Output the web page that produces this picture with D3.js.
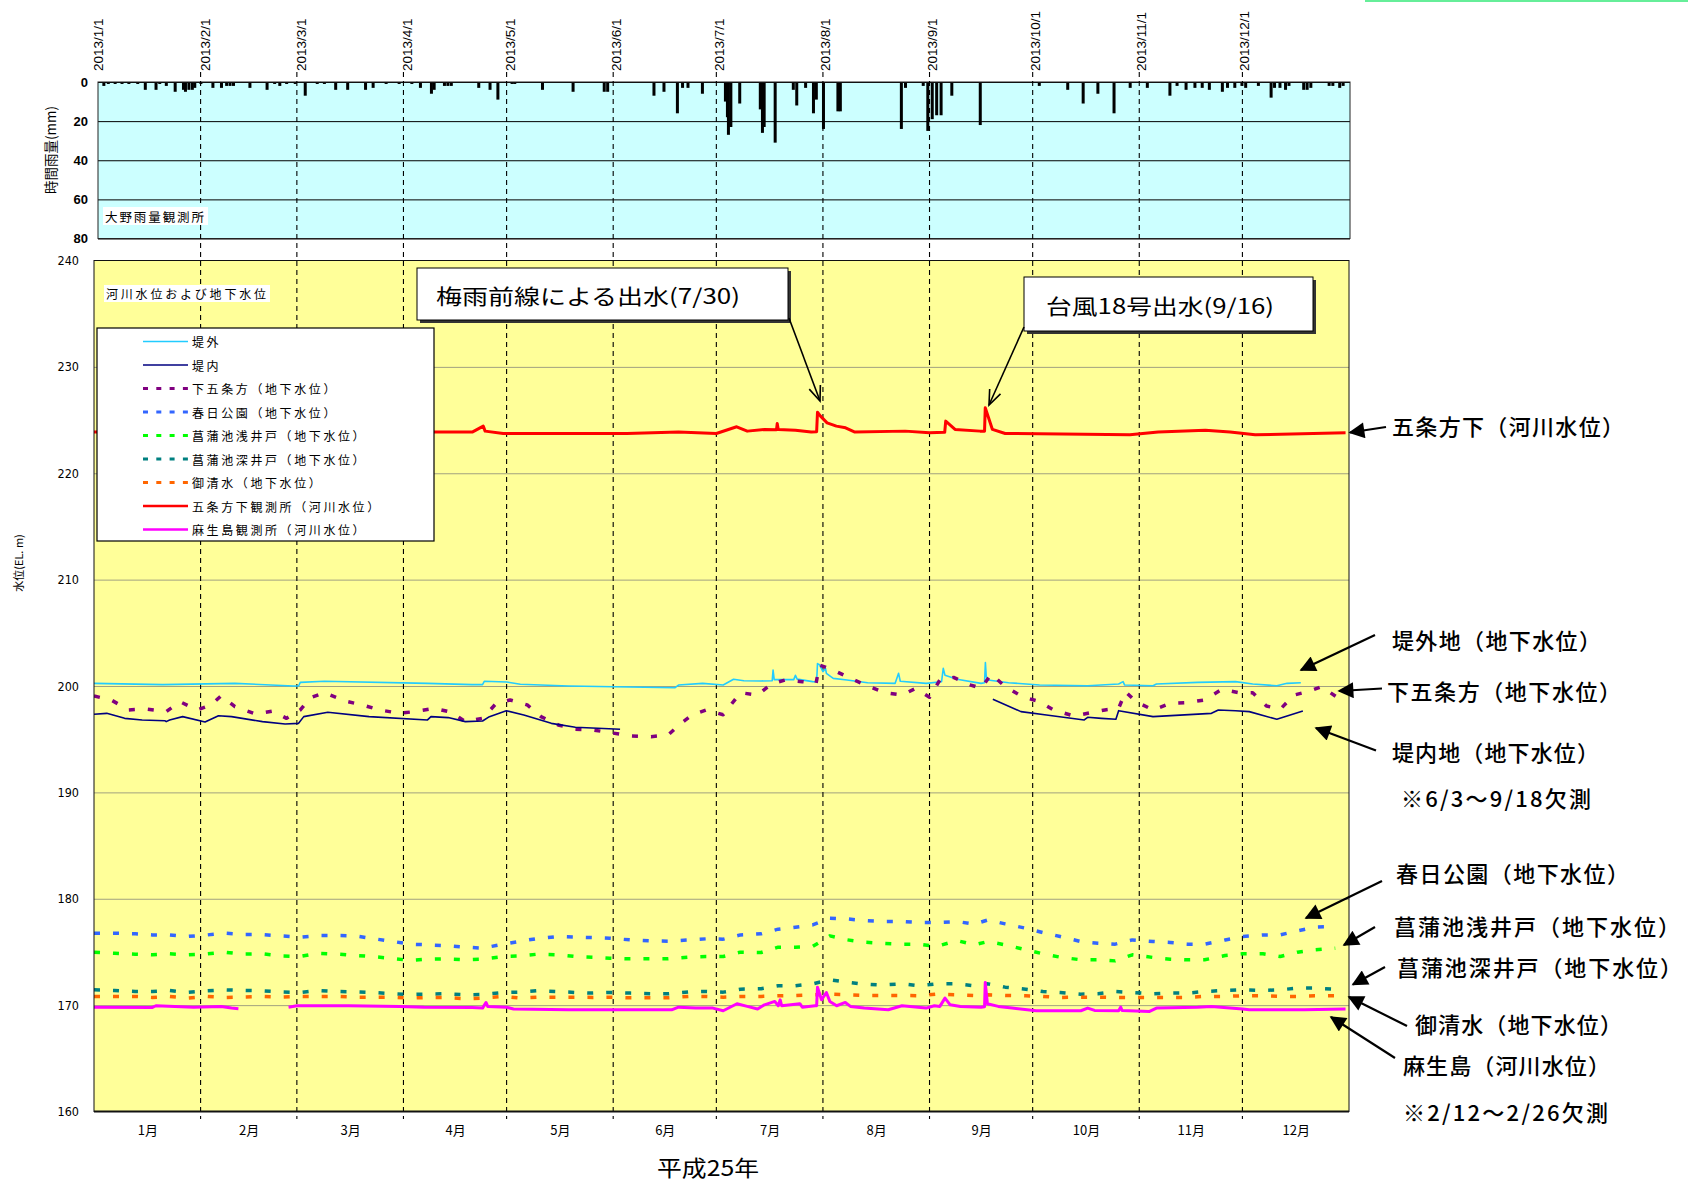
<!DOCTYPE html>
<html><head><meta charset="utf-8">
<script src="https://cdn.jsdelivr.net/npm/d3@7"></script>
<style>body{margin:0;background:#fff;}svg{display:block;}</style>
</head><body>
<svg id="c" width="1688" height="1185"></svg>
<script>
// ---------------- DATA ----------------
const monthStarts = ["1/1","2/1","3/1","4/1","5/1","6/1","7/1","8/1","9/1","10/1","11/1","12/1"];
const topDateLabels = ["2013/1/1","2013/2/1","2013/3/1","2013/4/1","2013/5/1","2013/6/1","2013/7/1","2013/8/1","2013/9/1","2013/10/1","2013/11/1","2013/12/1"];
const monthMids = ["1/16 12","2/15","3/16 12","4/16","5/16 12","6/16","7/16 12","8/16 12","9/16","10/16 12","11/16","12/16 12"];
const monthLabels = ["1月","2月","3月","4月","5月","6月","7月","8月","9月","10月","11月","12月"];
const levelTicks = [160,170,180,190,200,210,220,230,240];
const rainTicks = [0,20,40,60,80];

const rainfall = [
["1/2 17",2],["1/4",1],["1/6",1],["1/8",1],["1/10",1],["1/12 14",1],["1/14 19",4],["1/17 22",4],["1/19",1],["1/20 22",2],["1/23 12",5],["1/25 22",4],["1/26 12",5],["1/27 12",4],["1/28 12",4],["1/29 5",3],["1/31",1],
["2/3 12",3],["2/6",3],["2/7 12",2],["2/8 12",2],["2/9 12",2],["2/14 7",3],["2/19 7",4],["2/21 12",1],["2/23",2],["2/25",1],["2/27 12",1],
["3/2 10",7],["3/5 22",1],["3/8",1],["3/11 7",4],["3/14 19",4],["3/20",4],["3/22 5",3],["3/26",1],["3/29 19",1],
["4/2 12",1],["4/5",3],["4/8 5",6],["4/9",4],["4/12",2],["4/13",2],["4/14",2],["4/22",3],["4/25 7",4],["4/27 14",9],
["5/1 17",1],["5/2 12",1],["5/10 14",4],["5/19 12",5],["5/28 14",5],["5/29 14",5],
["6/12 2",7],["6/15",5],["6/18 22",16],["6/20 10",3],["6/22",3],["6/26 5",6],
["7/2 22",10],["7/3 12",18],["7/3 19",27],["7/4 12",23],["7/7 2",11],["7/13 2",14],["7/13 17",26],["7/14 5",23],["7/17 10",31],["7/22 17",4],["7/23 17",12],["7/26 7",3],["7/28 14",16],["7/29 10",9],["7/31 12",24],
["8/4 17",15],["8/5 10",15],["8/23 5",24],["8/24 10",3],["8/29 14",2],["8/30 22",25],
["9/1 5",19],["9/2 12",17],["9/3 19",17],["9/6 22",7],["9/15 5",22],
["10/2 10",2],["10/10 17",4],["10/15 5",11],["10/19 12",6],["10/24 5",16],["10/28 22",3],
["11/2 22",3],["11/9 12",7],["11/11 14",2],["11/14 5",4],["11/16 19",3],["11/18 22",3],["11/21",4],["11/24 19",5],["11/26 7",3],["11/28 10",3],["11/30 12",2],
["12/1 14",3],["12/5 7",2],["12/9",8],["12/10",3],["12/11 14",3],["12/13 5",4],["12/14 5",2],["12/18 12",4],["12/19 12",4],["12/20 14",3],["12/25 22",2],["12/27",2],["12/29",3],["12/30",2]
];

// 堤外
const teigai = [["1/1",200.25],["1/21",200.13],["2/11",200.25],["2/28",200.0],["3/1 12",200.0],["3/2",200.34],["3/9",200.44],["4/8",200.25],["4/21",200.13],["4/24",200.13],["4/24 12",200.44],["5/1",200.38],["5/5",200.16],["5/19",200.0],["6/19",199.84],["6/20",200.09],["6/27",200.25],["7/3",200.1],["7/6",200.63],["7/9",200.5],["7/14",200.47],["7/17 6",200.5],["7/17 12",201.5],["7/17 20",200.6],["7/23 12",200.6],["7/24",201.0],["7/24 12",200.65],["7/29",200.41],["7/30 4",200.4],["7/30 10",202.1],["7/31",202.0],["8/1",201.35],["8/1 18",201.66],["8/2",201.19],["8/4",200.72],["8/8",200.56],["8/14",200.31],["8/22",200.25],["8/23",201.19],["8/23 12",200.45],["8/31",200.25],["9/4 12",200.4],["9/5",201.66],["9/5 12",201.0],["9/9",200.63],["9/16",200.25],["9/17 0",200.3],["9/17 6",202.2],["9/17 12",200.9],["9/18",200.56],["9/24",200.31],["10/3",200.09],["10/17",200.03],["10/26",200.19],["10/27 7",200.41],["10/27 18",200.09],["11/5",200.03],["11/6",200.19],["11/18",200.34],["11/29",200.41],["12/4",200.19],["12/11",200.03],["12/14",200.25],["12/18",200.31]];
// 堤内 (6/3〜9/18 欠測)
const teinai = [["1/1",197.34],["1/4 17",197.43],["1/9 22",196.96],["1/15",196.81],["1/21 14",196.74],["1/22",196.65],["1/23",196.8],["1/26 19",197.12],["2/2 7",196.62],["2/6 5",197.21],["2/10",197.12],["2/19",196.65],["2/25 14",196.43],["3/1 12",196.49],["3/3",197.12],["3/10",197.53],["3/22",197.12],["4/8",196.81],["4/9",197.12],["4/14",197.03],["4/19",196.65],["4/24",196.71],["4/26",197.12],["4/30 22",197.68],["5/6",197.28],["5/14",196.49],["5/21",196.12],["6/3",195.93],["6/4",null],["9/19 10",198.75],["9/27 14",197.59],["10/5",197.28],["10/16",196.81],["10/17",197.06],["10/21",196.96],["10/25 5",196.87],["10/26",197.68],["11/5",197.12],["11/22",197.43],["11/24",197.75],["11/29",197.68],["12/3",197.59],["12/11",196.87],["12/18 14",197.65]];
// 下五条方
const shimogojo = [["1/1",199.06],["1/6",198.69],["1/11",197.75],["1/16",197.84],["1/22",197.59],["1/26",198.53],["1/31",197.75],["2/4",198.22],["2/7",199.09],["2/11",198.06],["2/17",197.37],["2/22",197.65],["2/26",196.96],["3/2",197.75],["3/5",198.9],["3/9",199.37],["3/15",198.59],["3/20",198.22],["3/25",197.75],["3/31",197.43],["4/4",197.59],["4/10",197.9],["4/15",197.53],["4/19",196.65],["4/24",196.96],["4/28",198.37],["5/2",198.69],["5/7",198.22],["5/11",197.12],["5/16",196.34],["5/21",195.93],["5/26",195.87],["5/31",195.62],["6/6",195.31],["6/12",195.24],["6/17",195.4],["6/21",196.56],["6/24",197.28],["6/28",197.75],["7/3",197.3],["7/8",199.37],["7/13",199.15],["7/17",200.19],["7/21",200.56],["7/26",200.41],["7/30",200.25],["7/31",201.97],["8/4",201.5],["8/9",200.72],["8/14",200.0],["8/19",199.37],["8/24",199.15],["8/28",199.78],["9/1",198.94],["9/4",200.56],["9/8",200.81],["9/13",200.09],["9/16",199.78],["9/19",201.13],["9/23",199.94],["9/28",199.0],["10/3",198.53],["10/7",197.75],["10/13",197.18],["10/18",197.5],["10/22",197.75],["10/26",197.9],["10/28",199.47],["10/31",198.53],["11/5",197.75],["11/10",198.37],["11/15",198.44],["11/20",198.69],["11/25",199.69],["11/30",199.37],["12/4",199.37],["12/8",198.12],["12/12",197.81],["12/16",199.15],["12/20",199.47],["12/24",199.94],["12/29",198.84]];

const wellDates = ["1/1","1/7","1/13","1/18","1/23","1/28","2/3","2/8","2/13","2/19","2/24","3/2","3/7","3/13","3/18","3/23","3/29","4/3","4/8","4/13","4/19","4/24","4/30","5/5","5/10","5/16","5/21","5/26","5/31","6/6","6/12","6/17","6/23","6/28",
"7/3","7/8","7/14","7/19","7/24","7/29","8/3","8/8","8/13","8/18","8/24","8/29","9/3","9/9","9/14","9/18","9/23","9/29","10/4","10/9","10/15","10/20","10/25","10/30","11/5","11/10","11/15","11/20","11/26","12/1","12/7","12/12","12/17","12/22","12/28"];
// 春日公園
const kasugaValues = [176.76,176.76,176.70,176.60,176.60,176.45,176.60,176.76,176.64,176.64,176.51,176.39,176.54,176.54,176.51,176.26,175.98,175.73,175.67,175.60,175.45,175.36,175.73,176.01,176.26,176.45,176.39,176.35,176.29,176.13,176.04,176.01,176.13,176.23,
176.20,176.60,176.70,177.14,177.33,177.54,178.17,178.11,177.95,177.86,177.86,177.76,177.76,177.86,177.61,178.01,177.64,177.23,176.82,176.45,175.98,175.82,175.73,176.13,175.98,175.89,175.73,175.73,176.13,176.45,176.60,176.60,176.98,177.33,177.39];
// 菖蒲池浅井戸
const shallowValues = [174.98,174.88,174.79,174.73,174.82,174.73,174.82,174.98,174.79,174.82,174.63,174.57,174.88,174.79,174.67,174.57,174.38,174.20,174.32,174.35,174.26,174.32,174.57,174.63,174.79,174.73,174.57,174.51,174.41,174.35,174.35,174.35,174.51,174.57,
174.57,174.98,174.95,175.45,175.45,175.51,176.51,176.14,175.92,175.82,175.73,175.73,175.51,176.07,175.67,175.98,175.67,175.20,174.82,174.51,174.26,174.26,174.16,174.73,174.48,174.32,174.26,174.26,174.67,174.82,174.82,174.57,174.98,175.20,175.35];
// 菖蒲池深井戸
const deepValues = [171.44,171.38,171.28,171.28,171.38,171.19,171.35,171.44,171.38,171.35,171.25,171.19,171.38,171.28,171.25,171.19,171.07,171.00,171.03,171.07,170.97,171.00,171.19,171.22,171.35,171.28,171.19,171.13,171.19,171.13,171.07,171.07,171.25,171.28,
171.22,171.50,171.54,171.82,171.82,172.00,172.38,172.16,171.97,171.88,172.00,171.82,172.00,172.00,171.82,172.00,171.69,171.50,171.28,171.19,171.03,171.07,171.28,171.19,171.07,171.13,171.13,171.28,171.38,171.44,171.38,171.44,171.60,171.60,171.50];
// 御清水
const oshozuValues = [170.82,170.82,170.82,170.72,170.82,170.66,170.82,170.72,170.75,170.82,170.75,170.82,170.82,170.82,170.75,170.75,170.75,170.66,170.72,170.72,170.60,170.66,170.82,170.66,170.75,170.75,170.75,170.72,170.75,170.69,170.69,170.69,170.82,170.82,
170.75,170.82,170.82,170.88,170.91,170.97,171.03,170.97,170.91,170.91,170.91,170.88,171.03,170.97,170.91,170.97,170.91,170.88,170.82,170.72,170.75,170.75,170.72,170.72,170.72,170.72,170.72,170.82,170.82,170.88,170.88,170.82,170.82,170.88,170.88];
// 五条方下観測所
const gojo = [["1/1",223.87],["4/10",223.87],["4/21",223.87],["4/24 5",224.43],["4/24 18",223.96],["4/30",223.74],["6/5",223.74],["6/20",223.87],["7/1",223.74],["7/6 22",224.37],["7/10",223.96],["7/15",224.12],["7/18 12",224.1],["7/18 17",224.68],["7/19",224.12],["7/24",224.05],["7/28 14",223.87],["7/30 4",223.9],["7/30 10",225.74],["7/31 7",225.37],["8/2 5",224.74],["8/4 22",224.43],["8/7 14",224.27],["8/10 7",223.87],["8/24 22",223.96],["9/1",223.8],["9/5 10",223.85],["9/5 17",224.9],["9/8 10",224.12],["9/15 17",223.96],["9/17 0",223.96],["9/17 5",226.15],["9/19 7",224.12],["9/23",223.74],["10/29 7",223.61],["11/6 12",223.87],["11/20 5",224.05],["11/27 10",223.87],["12/4 17",223.61],["12/31",223.8]];
// 麻生島観測所 (2/12〜2/26 欠測)
const asoujima = [["1/1",169.81],["1/18",169.78],["1/19",169.94],["1/30",169.81],["2/7",169.88],["2/10",169.72],["2/12",169.66],["2/13",null],["2/26 14",169.81],["3/1",169.94],["3/16",169.94],["3/31",169.88],["4/7",169.81],["4/21",169.78],["4/24",169.72],["4/25",170.25],["4/25 12",169.88],["4/30 22",169.81],["5/3",169.63],["5/19",169.56],["5/31",169.56],["6/18",169.56],["6/20",169.81],["6/25",169.72],["6/30",169.72],["7/3",169.47],["7/7",170.13],["7/10",169.88],["7/13",169.63],["7/15",170.03],["7/18",170.35],["7/19",169.94],["7/19 14",170.5],["7/20",169.94],["7/25 7",170.13],["7/26",169.81],["7/29 17",169.94],["7/30 4",169.95],["7/30 10",171.69],["7/31 14",170.5],["8/2",171.19],["8/3",170.35],["8/5",169.94],["8/7 12",170.25],["8/9",169.88],["8/13",169.72],["8/20",169.56],["8/24",169.94],["8/31",169.72],["9/2 10",169.94],["9/4",169.88],["9/5 12",170.66],["9/7",170.03],["9/10",169.88],["9/16",169.81],["9/17 0",169.85],["9/17 5",172.13],["9/17 20",170.13],["9/21",169.88],["9/25",169.72],["10/2",169.47],["10/15",169.47],["10/17",169.72],["10/19",169.5],["10/26",169.47],["10/26 14",169.81],["10/27",169.5],["11/4",169.41],["11/6",169.72],["11/18",169.81],["11/22",169.88],["12/1",169.63],["12/3",169.56],["12/19",169.56],["12/31",169.63]];

const legendNames = ["堤外","堤内","下五条方（地下水位）","春日公園（地下水位）","菖蒲池浅井戸（地下水位）","菖蒲池深井戸（地下水位）","御清水（地下水位）","五条方下観測所（河川水位）","麻生島観測所（河川水位）"];
const sideLabels = ["五条方下（河川水位）","堤外地（地下水位）","下五条方（地下水位）","堤内地（地下水位）","※6/3～9/18欠測","春日公園（地下水位）","菖蒲池浅井戸（地下水位）","菖蒲池深井戸（地下水位）","御清水（地下水位）","麻生島（河川水位）","※2/12～2/26欠測"];
const eventLabels = ["梅雨前線による出水(7/30)","台風18号出水(9/16)"];

// ---------------- LAYOUT ----------------
const JP = "'Noto Sans CJK JP','Noto Sans CJK SC',sans-serif";
const NARROW = "'Liberation Sans Narrow','DejaVu Sans Condensed','Liberation Sans',sans-serif";
const ARIAL = "'Liberation Sans',Arial,sans-serif";
const parse = s => { const [md,h] = s.split(" "); const [m,d] = md.split("/").map(Number); return new Date(2013,m-1,d,h?+h:0); };

const M = {l:94, r:1349, t:260.5, b:1111.5};
const R = {l:98, r:1350, t:82, b:238.5};
const x = d3.scaleTime().domain([new Date(2013,0,1), new Date(2014,0,1)]).range([M.l,M.r]);
const xr = d3.scaleTime().domain([new Date(2013,0,1), new Date(2014,0,1)]).range([R.l,R.r]);
const y = d3.scaleLinear().domain([160,240]).range([M.b,M.t]);
const yr = d3.scaleLinear().domain([0,80]).range([R.t,R.b]);

const svg = d3.select("#c");
const defs = svg.append("defs");
defs.append("clipPath").attr("id","clipM").append("rect").attr("x",M.l).attr("y",M.t).attr("width",M.r-M.l).attr("height",M.b-M.t);
defs.append("clipPath").attr("id","clipR").append("rect").attr("x",R.l).attr("y",R.t).attr("width",R.r-R.l).attr("height",R.b-R.t);
const mk = defs.append("marker").attr("id","tri").attr("viewBox","0 0 10 10").attr("refX",9).attr("refY",5)
  .attr("markerWidth",20).attr("markerHeight",16).attr("markerUnits","userSpaceOnUse").attr("orient","auto");
mk.append("path").attr("d","M0,0 L10,5 L0,10 Z").attr("fill","#000");

// decorative line top right
svg.append("line").attr("x1",1365).attr("x2",1688).attr("y1",1).attr("y2",1).attr("stroke","#66ee99").attr("stroke-width",2);

// ---- rain panel ----
svg.append("rect").attr("x",R.l).attr("y",R.t).attr("width",R.r-R.l).attr("height",R.b-R.t).attr("fill","#ccffff");
const rg = svg.append("g").attr("transform",`translate(${R.l},0)`)
  .call(d3.axisLeft(yr).tickValues(rainTicks).tickSize(-(R.r-R.l)).tickPadding(10));
rg.select(".domain").remove();
rg.selectAll(".tick line").attr("stroke","#000").attr("stroke-width",1);
rg.selectAll(".tick text").attr("font-family",ARIAL).attr("font-size",13).attr("font-weight","bold").attr("fill","#000");
svg.append("g").attr("clip-path","url(#clipR)").selectAll("rect").data(rainfall).join("rect")
  .attr("x",d=>xr(parse(d[0]))-1.5).attr("width",3)
  .attr("y",yr(0)).attr("height",d=>yr(d[1])-yr(0)).attr("fill","#000");
svg.append("rect").attr("x",R.l).attr("y",R.t).attr("width",R.r-R.l).attr("height",R.b-R.t).attr("fill","none").attr("stroke","#222").attr("stroke-width",1);
svg.append("text").attr("transform",`translate(50,150) rotate(-90)`).attr("text-anchor","middle").attr("dominant-baseline","central")
  .attr("font-family",JP).attr("font-size",13.5).text("時間雨量(mm)");

// top date labels
const tg = svg.append("g").attr("transform",`translate(0,71)`)
  .call(d3.axisTop(xr).tickValues(monthStarts.map(parse)).tickFormat((d,i)=>topDateLabels[i]).tickSize(0));
tg.select(".domain").remove();
tg.selectAll(".tick text").attr("transform","rotate(-90)").attr("x",0).attr("y",0).attr("dy","0.35em")
  .attr("text-anchor","start").attr("font-family",ARIAL).attr("font-size",13.5).attr("fill","#000");

// ---- main panel ----
svg.append("rect").attr("x",M.l).attr("y",M.t).attr("width",M.r-M.l).attr("height",M.b-M.t).attr("fill","#ffff99");
const yg = svg.append("g").attr("transform",`translate(${M.l},0)`)
  .call(d3.axisLeft(y).tickValues(levelTicks).tickSize(-(M.r-M.l)).tickPadding(15));
yg.select(".domain").remove();
yg.selectAll(".tick line").attr("stroke","#8a8a7a").attr("stroke-width",0.8)
  .filter(d=>d===160||d===240).remove();
yg.selectAll(".tick text").attr("font-family",NARROW).attr("font-stretch","condensed").attr("font-size",12.5).attr("fill","#000");
svg.append("text").attr("transform",`translate(18,563) rotate(-90)`).attr("text-anchor","middle").attr("dominant-baseline","central")
  .attr("font-family",JP).attr("font-size",11).text("水位(EL. m)");

// month dashed lines (across both panels)
svg.append("g").selectAll("line").data(monthStarts.slice(1)).join("line")
  .attr("x1",d=>x(parse(d))).attr("x2",d=>x(parse(d))).attr("y1",72).attr("y2",1119)
  .attr("stroke","#000").attr("stroke-width",1.1).attr("stroke-dasharray","5,4");

// month labels
const xg = svg.append("g").attr("transform",`translate(0,${M.b})`)
  .call(d3.axisBottom(x).tickValues(monthMids.map(parse)).tickFormat((d,i)=>monthLabels[i]).tickSize(0).tickPadding(14));
xg.select(".domain").remove();
xg.selectAll(".tick text").attr("font-family",JP).attr("font-size",13).attr("fill","#000");

// series
const line = d3.line().defined(d=>d[1]!=null).x(d=>x(parse(d[0]))).y(d=>y(d[1]));
const wells = vals => wellDates.map((d,i)=>[d,vals[i]]);
const series = [
  {data:teigai, color:"#22ccff", w:1.6, dash:null},
  {data:teinai, color:"#000080", w:1.6, dash:null},
  {data:shimogojo, color:"#800080", w:3.5, dash:"6,13"},
  {data:wells(kasugaValues), color:"#3366ff", w:3.5, dash:"6,13"},
  {data:wells(shallowValues), color:"#00ff00", w:3.5, dash:"6,13"},
  {data:wells(deepValues), color:"#008080", w:3.5, dash:"6,13"},
  {data:wells(oshozuValues), color:"#ff6600", w:3.5, dash:"6,13"},
  {data:gojo, color:"#ff0000", w:3, dash:null},
  {data:asoujima, color:"#ff00ff", w:3, dash:null}
];
const sg = svg.append("g").attr("clip-path","url(#clipM)");
const drawOrder = [3,4,5,6,8,7,0,2,1];
drawOrder.forEach(i=>{
  const s = series[i];
  sg.append("path").datum(s.data).attr("d",line).attr("fill","none").attr("stroke",s.color)
    .attr("stroke-width",s.w).attr("stroke-dasharray",s.dash).attr("stroke-linejoin","round");
});

// main border
svg.append("rect").attr("x",M.l).attr("y",M.t).attr("width",M.r-M.l).attr("height",M.b-M.t).attr("fill","none").attr("stroke","#111").attr("stroke-width",1);
svg.append("line").attr("x1",M.l).attr("x2",M.r).attr("y1",M.b).attr("y2",M.b).attr("stroke","#111").attr("stroke-width",2.2);

// label boxes inside panels
function labelBox(txt, bx, by, bw, bh, fs, tl){
  svg.append("rect").attr("x",bx).attr("y",by).attr("width",bw).attr("height",bh).attr("fill","#fff");
  svg.append("text").attr("x",bx+2).attr("y",by+bh/2).attr("dominant-baseline","central").attr("font-family",JP)
    .attr("font-size",fs).attr("textLength",tl).attr("lengthAdjust","spacing").text(txt);
}
labelBox("大野雨量観測所",103,207,105,18,12.5,99);
labelBox("河川水位および地下水位",104,285,166,17,12,160);

// legend
svg.append("rect").attr("x",97).attr("y",328).attr("width",337).attr("height",213).attr("fill","#fff").attr("stroke","#000").attr("stroke-width",1.2);
const lg = svg.append("g").selectAll("g").data(series).join("g").attr("transform",(d,i)=>`translate(0,${341.5+i*23.5})`);
lg.append("line").attr("x1",143).attr("x2",188).attr("y1",0).attr("y2",0).attr("stroke",d=>d.color)
  .attr("stroke-width",d=>d.dash?3:(d.w>2?2.5:1.5)).attr("stroke-dasharray",d=>d.dash?"5,8.3":null);
lg.append("text").attr("x",192).attr("y",0).attr("dominant-baseline","central").attr("font-family",JP).attr("font-size",12)
  .attr("letter-spacing","2.6px").text((d,i)=>legendNames[i]);

// event annotation boxes
function eventBox(txt, bx, by, bw, bh, tx, tl){
  svg.append("rect").attr("x",bx+3).attr("y",by+3).attr("width",bw).attr("height",bh).attr("fill","#333");
  svg.append("rect").attr("x",bx).attr("y",by).attr("width",bw).attr("height",bh).attr("fill","#fff").attr("stroke","#000").attr("stroke-width",1);
  svg.append("text").attr("x",tx).attr("y",by+bh/2+1).attr("dominant-baseline","central").attr("font-family",JP)
    .attr("font-size",21).attr("textLength",tl).attr("lengthAdjust","spacingAndGlyphs").text(txt);
}
eventBox(eventLabels[0],417,268,371,52,436,304);
eventBox(eventLabels[1],1024,277,289,54,1046,228);
function openArrow(x1,y1,x2,y2){
  svg.append("line").attr("x1",x1).attr("y1",y1).attr("x2",x2).attr("y2",y2).attr("stroke","#000").attr("stroke-width",1.6);
  const a = Math.atan2(y2-y1,x2-x1), L=16, s=0.38;
  const p = [[x2-L*Math.cos(a-s), y2-L*Math.sin(a-s)],[x2,y2],[x2-L*Math.cos(a+s), y2-L*Math.sin(a+s)]];
  svg.append("path").attr("d",d3.line()(p)).attr("fill","none").attr("stroke","#000").attr("stroke-width",1.6);
}
openArrow(789,318,820,401);
openArrow(1024,327,989,405);

// right-side labels and arrows
const sideLayout = [
  {x:1392,y:425,len:232,a:[1386,427,1350,432.5]},
  {x:1392,y:639,len:209,a:[1375,635,1301,670]},
  {x:1387,y:690,len:234,a:[1382,688.5,1339,691]},
  {x:1392,y:751,len:207,a:[1376,750.5,1316,728]},
  {x:1401,y:797,len:190,a:null},
  {x:1396,y:872,len:233,a:[1382,881,1306,918]},
  {x:1394,y:925,len:286,a:[1375,927,1344,945]},
  {x:1397,y:966,len:285,a:[1385,967,1353,984.5]},
  {x:1415,y:1023,len:207,a:[1407,1026,1349,997]},
  {x:1403,y:1064,len:207,a:[1395,1058,1331,1017]},
  {x:1403,y:1111,len:205,a:null}
];
sideLayout.forEach((p,i)=>{
  svg.append("text").attr("x",p.x).attr("y",p.y).attr("dominant-baseline","central").attr("font-family",JP)
    .attr("font-size",22).attr("font-weight",500).attr("textLength",p.len).attr("lengthAdjust","spacing").text(sideLabels[i]);
  if(p.a){
    svg.append("line").attr("x1",p.a[0]).attr("y1",p.a[1]).attr("x2",p.a[2]).attr("y2",p.a[3])
      .attr("stroke","#000").attr("stroke-width",2.2).attr("marker-end","url(#tri)");
  }
});

// bottom title
svg.append("text").attr("x",708).attr("y",1166).attr("text-anchor","middle").attr("dominant-baseline","central")
  .attr("font-family",JP).attr("font-size",22).attr("textLength",102).attr("lengthAdjust","spacingAndGlyphs").text("平成25年");
</script>
</body></html>
